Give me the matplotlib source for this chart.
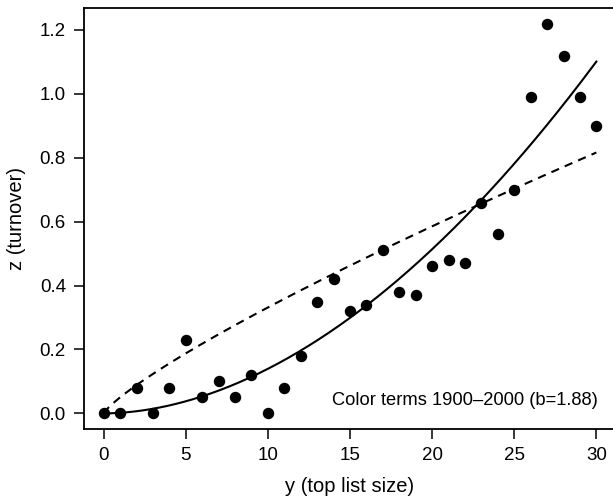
import numpy as np
import matplotlib
matplotlib.use("Agg")
import matplotlib.pyplot as plt

plt.rcParams['font.family'] = ['Liberation Sans', 'DejaVu Sans']

# top list size and observed turnover
list_size = list(range(31))
turnover = [0.00, 0.00, 0.08, 0.00, 0.08, 0.23, 0.05, 0.10, 0.05, 0.12,
            0.00, 0.08, 0.18, 0.35, 0.42, 0.32, 0.34, 0.51, 0.38, 0.37,
            0.46, 0.48, 0.47, 0.66, 0.56, 0.70, 0.99, 1.22, 1.12, 0.99, 0.90]

# fitted power curves z = a * y^b
fit_a, fit_b = 0.00184, 1.88      # solid
ref_a, ref_b = 0.0502, 0.82       # dashed

x_ticks = [0, 5, 10, 15, 20, 25, 30]
y_ticks = [0.0, 0.2, 0.4, 0.6, 0.8, 1.0, 1.2]
note = "Color terms 1900\u20132000 (b=1.88)"

fig = plt.figure(figsize=(6.13, 4.99), dpi=100)
ax = fig.add_axes([0.137, 0.1403, 0.868, 0.8437])

yy = np.linspace(0, 30, 300)
ax.plot(yy, fit_a * yy ** fit_b, color='black', lw=1.5)
ax.plot(yy, ref_a * yy ** ref_b, color='black', lw=1.5, linestyle=(0, (4, 3)))
ax.scatter(list_size, turnover, s=52, color='black', zorder=3)

ax.text(30.1, 0.04, note, ha='right', va='center', fontsize=13.2)

ax.set_xlim(-1.2, 31.2)
ax.set_ylim(-0.0488, 1.2688)
ax.set_xticks(x_ticks)
ax.set_yticks(y_ticks)
ax.set_yticklabels([f"{v:.1f}" for v in y_ticks])
ax.tick_params(direction='out', length=7, width=1.1, labelsize=13.5, pad=6)
for sp in ax.spines.values():
    sp.set_linewidth(1.3)

ax.set_xlabel("y (top list size)", fontsize=14.5, labelpad=9)
ax.set_ylabel("z (turnover)", fontsize=14.5, labelpad=10)

fig.savefig("out.png", dpi=100)
